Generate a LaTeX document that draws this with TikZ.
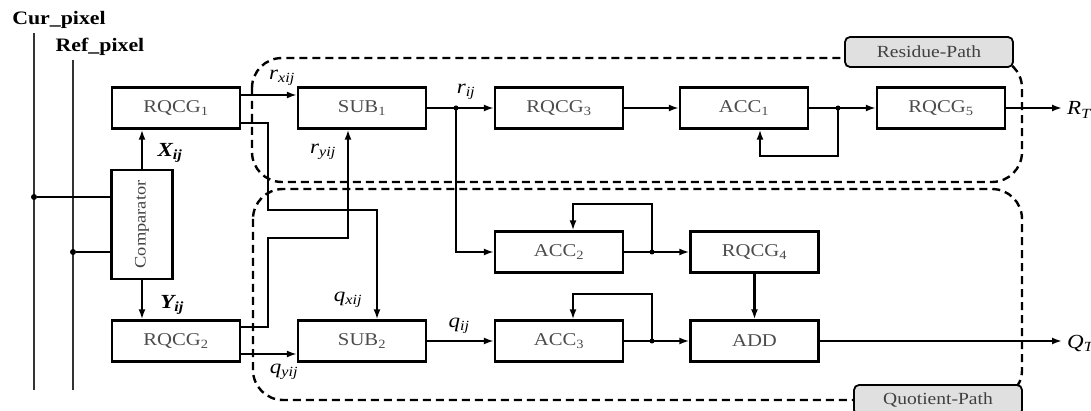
\documentclass[tikz,border=0pt]{standalone}
\usepackage{fontspec}
\setmainfont{Liberation Serif}[FakeStretch=1.15]
\usetikzlibrary{arrows.meta}
\begin{document}
\begin{tikzpicture}[x=1pt,y=-1pt,
  blk/.style={draw, line width=2.4pt, minimum width=128pt, minimum height=41pt, inner sep=0pt,
    font=\fontsize{18}{20}\selectfont, text=black!70},
  wire/.style={line width=1.8pt},
  arr/.style={wire, -{Latex[length=10pt,width=7pt]}},
  sig/.style={font=\fontsize{20}{22}\selectfont\itshape, inner sep=1pt},
  dot/.style={circle, fill, inner sep=0pt, minimum size=6pt},
  region/.style={dashed, line width=2.4pt, dash pattern=on 8pt off 5pt, rounded corners=30pt},
  pathlbl/.style={draw, line width=1.8pt, rounded corners=5pt, fill=black!12, minimum width=168pt,
    minimum height=30pt, inner sep=0pt, font=\fontsize{17}{19}\selectfont, text=black!75},
  bus/.style={line width=2.8pt, black!80}
]
\useasboundingbox (0,0) rectangle (1091,411);

% dashed regions
\draw[region] (252,58) rectangle (1022,182);
\draw[region] (253,189) rectangle (1022,400);
\node[pathlbl] (rp) at (929,52) {Residue-Path};
\node[pathlbl] (qp) at (938,400) {Quotient-Path};

% inputs
\node[font=\fontsize{19}{21}\selectfont\bfseries] (cur) at (59,20) {Cur\_pixel};
\node[font=\fontsize{19}{21}\selectfont\bfseries] (ref) at (100,47) {Ref\_pixel};
\coordinate (curtop) at (34,33);
\coordinate (curbot) at (34,390);
\coordinate (reftop) at (73,60);
\coordinate (refbot) at (73,390);
\draw[bus] (curtop) -- (curbot);
\draw[bus] (reftop) -- (refbot);

% blocks
\node[draw, line width=2.4pt, minimum width=61pt, minimum height=109pt, inner sep=0pt] (cmp) at (142,224.5) {};
\node[rotate=90, font=\fontsize{16}{18}\selectfont, text=black!75] (cmplbl) at (cmp.center) {Comparator};
\node[blk] (rq1) at (176,108) {RQCG\textsubscript{1}};
\node[blk] (rq2) at (176,341) {RQCG\textsubscript{2}};
\node[blk] (sub1) at (362,108) {SUB\textsubscript{1}};
\node[blk] (sub2) at (362,341) {SUB\textsubscript{2}};
\node[blk] (rq3) at (559,108) {RQCG\textsubscript{3}};
\node[blk] (acc1) at (744,108) {ACC\textsubscript{1}};
\node[blk] (rq5) at (941,108) {RQCG\textsubscript{5}};
\node[blk] (acc2) at (559,252) {ACC\textsubscript{2}};
\node[blk] (rq4) at (754.5,252) {RQCG\textsubscript{4}};
\node[blk] (acc3) at (559,341) {ACC\textsubscript{3}};
\node[blk] (add) at (754.5,341) {ADD};

% input taps
\node[dot] (dcur) at (34,197) {};
\node[dot] (dref) at (73,252) {};
\draw[wire] (dcur) -- (dcur -| cmp.west);
\draw[wire] (dref) -- (dref -| cmp.west);

% comparator outputs
\draw[arr, line width=2.2pt] (cmp.north) -- (cmp.north |- rq1.south);
\draw[arr, line width=2.2pt] (cmp.south) -- (cmp.south |- rq2.north);
\node[sig, font=\fontsize{20}{22}\selectfont\bfseries\itshape] (xl) at (170,153) {X\textsubscript{ij}};
\node[sig, font=\fontsize{20}{22}\selectfont\bfseries\itshape] (yl) at (172,305) {Y\textsubscript{ij}};

% cross connections
\coordinate (c1) at (268,210);
\coordinate (c2) at (268,238);
\draw[arr] ([yshift=13pt]rq1.east) -- ([yshift=13pt]sub1.west);
\draw[arr] ([yshift=-15pt]rq1.east) -| (c1) -| ([xshift=15pt]sub2.north);
\draw[arr] ([yshift=14pt]rq2.east) -| (c2) -| ([xshift=-14pt]sub1.south);
\draw[arr] ([yshift=-13pt]rq2.east) -- ([yshift=-13pt]sub2.west);
\node[sig] (lrx) at (282,78) {r\textsubscript{xij}};
\node[sig] (lry) at (323,152) {r\textsubscript{yij}};
\node[sig] (lqx) at (348,300) {q\textsubscript{xij}};
\node[sig] (lqy) at (284,372) {q\textsubscript{yij}};

% residue path
\node[dot, minimum size=5pt] (d1) at (456,108) {};
\draw[arr] (sub1.east) -- (rq3.west);
\draw[arr] (d1.center) |- (acc2.west);
\node[sig] (lr) at (466,92) {r\textsubscript{ij}};
\draw[arr] (rq3.east) -- (acc1.west);
\node[dot, minimum size=5pt] (d2) at (838,108) {};
\draw[arr] (acc1.east) -- (rq5.west);
\coordinate (f1) at (760,156);
\draw[arr] (d2.center) |- (f1) -- (f1 |- acc1.south);
\coordinate (rt) at (1062,108);
\draw[arr] (rq5.east) -- (rt);
\node[sig, anchor=west] (lrt) at (1066,110) {R\textsubscript{T}};

% quotient path
\draw[arr] (sub2.east) -- (acc3.west);
\node[sig] (lq) at (459,326) {q\textsubscript{ij}};
\node[dot, minimum size=5pt] (d3) at (652,252) {};
\draw[arr] (acc2.east) -- (rq4.west);
\coordinate (f2) at (573,204);
\draw[arr] (d3.center) |- (f2) -- (f2 |- acc2.north);
\node[dot, minimum size=5pt] (d4) at (652,341) {};
\draw[arr] (acc3.east) -- (add.west);
\coordinate (f3) at (573,294);
\draw[arr] (d4.center) |- (f3) -- (f3 |- acc3.north);
\draw[arr, line width=2.2pt] (rq4.south) -- (add.north);
\coordinate (qt) at (1062,341);
\draw[arr] (add.east) -- (qt);
\node[sig, anchor=west] (lqt) at (1066,343) {Q\textsubscript{T}};
\end{tikzpicture}
\end{document}
